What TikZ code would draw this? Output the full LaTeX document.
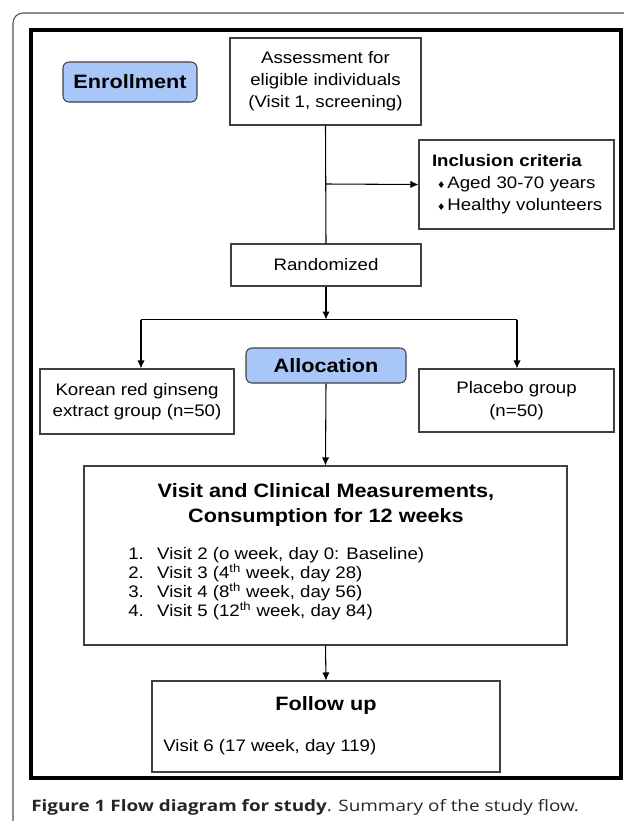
\documentclass[tikz,border=0pt]{standalone}
\usepackage{fontspec}
\setmainfont[FakeStretch=1.12]{Liberation Sans}
\newfontfamily\symfont{DejaVu Sans}
\newfontfamily\capfont[FakeStretch=1.2]{Open Sans}
\usetikzlibrary{arrows.meta}
\definecolor{phaseblue}{HTML}{A9C6F8}
\definecolor{boxline}{HTML}{404040}
\definecolor{framegray}{HTML}{505050}
\newcommand{\dia}{\hspace{3.75pt}{\symfont\fontsize{7}{7}\selectfont ♦}\hspace{1.5pt}}

\begin{document}
\begin{tikzpicture}[x=0.75pt,y=-0.75pt,
    every node/.style={font=\fontsize{12.5}{16.5}\selectfont},
    box/.style={draw=boxline,line width=0.8pt,rectangle,align=center,inner sep=0pt},
    phase/.style={draw=boxline,line width=0.8pt,fill=phaseblue,rounded corners=4.5pt,inner sep=0pt,font=\fontsize{14.5}{17}\selectfont\bfseries},
    arr/.style={-{Latex[length=6pt,width=5.5pt]},line width=0.8pt,draw=black}]
    \useasboundingbox (0,0) rectangle (624,821);
    \draw[framegray,line width=0.8pt,rounded corners=7.5pt] (13,13) rectangle (660,860);
    \draw[line width=2.5pt] (31,30) rectangle (621,778);

    \node[phase,minimum width=100.5pt,minimum height=30pt] (enroll) at (130,82) {Enrollment};
    \node[box,minimum width=143.25pt,minimum height=65.25pt] (assess) at (325.5,81.5)
{Assessment for\\eligible individuals\\ (Visit 1, screening)};
    \node[box,minimum width=146.25pt,minimum height=66.75pt,align=left,text width=126.75pt] (incl) at (516.5,184.5)
{\mbox{\textbf{Inclusion criteria}}\\\mbox{\dia Aged 30-70 years}\\\mbox{\dia Healthy volunteers}};
    \node[box,minimum width=142.5pt,minimum height=31.5pt] (rand) at (326,265) {Randomized};
    \node[phase,minimum width=120pt,minimum height=26.25pt] (alloc) at (326,365.5) {Allocation};
    \node[box,minimum width=145.5pt,minimum height=48.75pt,font=\fontsize{12.5}{15.75}\selectfont] (korean) at (137,401.5)
{Korean red ginseng\\extract group (n=50)};
    \node[box,minimum width=146.25pt,minimum height=47.25pt,font=\fontsize{12.5}{17}\selectfont] (placebo) at (516.5,400.5)
{Placebo group\\(n=50)};
    \node[box,minimum width=362.25pt,minimum height=134.25pt] (visit) at (325.5,555.5) {};
    \node[font=\fontsize{14.5}{18.75}\selectfont\bfseries,align=center] (visittitle) at (326,504.5)
{Visit and Clinical Measurements,\\Consumption for 12 weeks};
    \node[font=\fontsize{12.5}{14.25}\selectfont,align=left,anchor=west,inner sep=0pt] (visitlist) at (128,583.5)
{1.\hspace{10pt}Visit 2 (o week, day 0: Baseline)\\
2.\hspace{10pt}Visit 3 (4\textsuperscript{th} week, day 28)\\
3.\hspace{10pt}Visit 4 (8\textsuperscript{th} week, day 56)\\
4.\hspace{10pt}Visit 5 (12\textsuperscript{th} week, day 84)};
    \node[box,minimum width=261pt,minimum height=68.25pt] (follow) at (326,726.5) {};
    \node[font=\fontsize{14.5}{17}\selectfont\bfseries] (followtitle) at (326,705) {Follow up};
    \node[anchor=west,inner sep=0pt] (followtext) at (163,747) {Visit 6 (17 week, day 119)};

    \node[anchor=west,inner sep=0pt,font=\capfont\fontsize{11.8}{13}\selectfont,text=black!85] (caption) at (31,807)
{\textbf{Figure 1 Flow diagram for study}. Summary of the study flow.};

    \coordinate (branch) at (326,184);
    \coordinate (split) at (326,319.5);
    \coordinate (splitL) at (141,319.5);
    \coordinate (splitR) at (517,319.5);
    \draw[line width=0.8pt] (assess.south) -- (rand.north);
    \draw[arr] (branch) -- (incl.west);
    \draw[arr] (rand.south) -- (split);
    \draw[line width=0.8pt] (splitL) -- (splitR);
    \draw[arr] (splitL) -- (splitL |- korean.north);
    \draw[arr] (splitR) -- (splitR |- placebo.north);
    \draw[arr] (alloc.south) -- (visit.north);
    \draw[arr] (visit.south) -- (follow.north);
  \end{tikzpicture}
\end{document}
